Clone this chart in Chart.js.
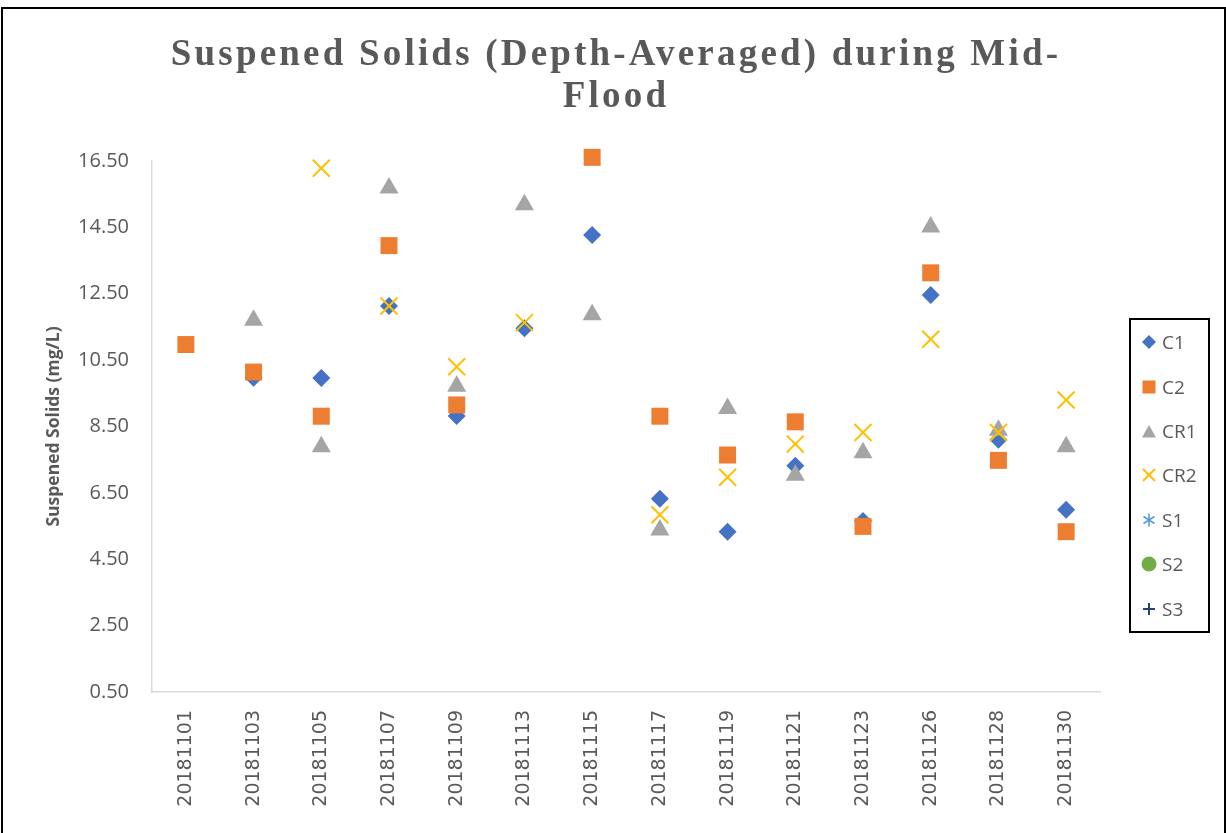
<!DOCTYPE html>
<html>
<head>
    <title>Suspended Solids Chart</title>
    <script src="https://cdn.jsdelivr.net/npm/chart.js"></script>
    <style>
        body {
            margin: 0;
            width: 1226px;
            height: 833px;
            overflow: hidden;
            background: #fff;
            position: relative;
        }

        #frame {
            position: absolute;
            left: 1px;
            top: 7px;
            width: 1221px;
            height: 830px;
            border: 2px solid #000;
        }

        #chartTitle {
            position: absolute;
            left: 0;
            top: 32px;
            width: 1226px;
            text-align: center;
            font-family: "Liberation Serif", serif;
            font-weight: bold;
            font-size: 37px;
            line-height: 42px;
            letter-spacing: 3.2px;
            padding-left: 3px;
            color: #595959;
        }

        #ssChart {
            position: absolute;
            left: 0;
            top: 0;
        }

        .legend {
            position: absolute;
            left: 1129px;
            top: 318px;
            width: 77px;
            height: 311px;
            border: 2px solid #000;
            display: flex;
            flex-direction: column;
        }

        .legend-item {
            height: 44.4px;
            display: flex;
            align-items: center;
            font-family: "Open Sans", sans-serif;
            font-size: 19px;
            color: #595959;
        }

        .legend-item svg {
            margin-left: 10px;
            margin-right: 5px;
        }
    </style>
</head>
<body>
    <div id="frame"></div>
    <canvas id="ssChart" width="1226" height="833"></canvas>
    <div id="chartTitle">Suspened Solids (Depth-Averaged) during Mid-<br>Flood</div>
    <div class="legend" id="legendContainer"></div>
    <script>
        const categories = ['20181101', '20181103', '20181105', '20181107', '20181109', '20181113', '20181115',
            '20181117', '20181119', '20181121', '20181123', '20181126', '20181128', '20181130'];

        const c1Values = [null, 9.97, 9.96, 12.13, 8.82, 11.46, 14.27, 6.32, 5.33, 7.32, 5.65, 12.46, 8.10, 5.99];
        const c2Values = [10.97, 10.14, 8.81, 13.95, 9.15, null, 16.61, 8.81, 7.64, 8.64, 5.49, 13.13, 7.48, 5.33];
        const cr1Values = [null, 11.70, 7.89, 15.69, 9.71, 15.18, 11.87, 5.38, 9.04, 7.03, 7.71, 14.51, 8.39, 7.89];
        const cr2Values = [null, null, 16.28, 12.13, 10.30, 11.63, null, 5.84, 6.97, 7.97, 8.32, 11.13, 8.32, 9.30];
        const s1Values = [];
        const s2Values = [];
        const s3Values = [];

        const yMin = 0.5;
        const yMax = 16.5;
        const yStep = 2;

        const seriesInfo = [
            { label: 'C1', data: c1Values, color: '#4472C4', style: 'rectRot', radius: 9,
              icon: '<polygon points="8,1 15,8 8,15 1,8" fill="#4472C4"/>' },
            { label: 'C2', data: c2Values, color: '#ED7D31', style: 'rect', radius: 12,
              icon: '<rect x="1.5" y="1.5" width="13" height="13" fill="#ED7D31"/>' },
            { label: 'CR1', data: cr1Values, color: '#A5A5A5', style: 'triangle', radius: 11,
              icon: '<polygon points="8,2 15,14.5 1,14.5" fill="#A5A5A5"/>' },
            { label: 'CR2', data: cr2Values, color: '#FFC000', style: 'crossRot', radius: 12,
              icon: '<path d="M2,2 L14,14 M14,2 L2,14" stroke="#FFC000" stroke-width="2"/>' },
            { label: 'S1', data: s1Values, color: '#5B9BD5', style: 'star', radius: 9,
              icon: '<path d="M8,1.5 L8,14.5 M2.5,4.5 L13.5,11.5 M13.5,4.5 L2.5,11.5" stroke="#5B9BD5" stroke-width="1.6"/>' },
            { label: 'S2', data: s2Values, color: '#70AD47', style: 'circle', radius: 8,
              icon: '<circle cx="8" cy="8" r="7.5" fill="#70AD47"/>' },
            { label: 'S3', data: s3Values, color: '#264478', style: 'cross', radius: 9,
              icon: '<path d="M8,2 L8,14 M2,8 L14,8" stroke="#264478" stroke-width="2"/>' },
        ];

        const datasets = seriesInfo.map((s, i) => ({
            label: s.label,
            data: s.data,
            showLine: false,
            clip: false, // C2 on 20181115 sits just above the 16.50 line
            pointStyle: s.style,
            pointRadius: s.radius,
            pointHoverRadius: s.radius,
            backgroundColor: s.color,
            borderColor: s.color,
            borderWidth: (s.style === 'crossRot' || s.style === 'cross' || s.style === 'star') ? 2 : 0,
            order: seriesInfo.length - i, // later series drawn on top
        }));

        Chart.defaults.font.family = '"Open Sans", sans-serif';

        new Chart(document.getElementById('ssChart').getContext('2d'), {
            type: 'line',
            data: { labels: categories, datasets: datasets },
            options: {
                responsive: false,
                animation: false,
                layout: { padding: { top: 161, right: 126, bottom: 0, left: 0 } },
                plugins: {
                    legend: { display: false },
                    tooltip: { enabled: false },
                },
                scales: {
                    x: {
                        type: 'category',
                        offset: true,
                        grid: { display: false, drawTicks: false },
                        border: { display: true, color: '#D9D9D9', width: 1.5 },
                        ticks: {
                            autoSkip: false,
                            minRotation: 90,
                            maxRotation: 90,
                            padding: 18,
                            color: '#595959',
                            font: { family: '"DejaVu Sans", sans-serif', size: 19 },
                        },
                        afterFit: scale => { scale.height = 141; },
                    },
                    y: {
                        min: yMin,
                        max: yMax,
                        grid: { display: false, drawTicks: false },
                        border: { display: true, color: '#D9D9D9', width: 1.5 },
                        ticks: {
                            stepSize: yStep,
                            padding: 23,
                            color: '#595959',
                            font: { size: 20 },
                            callback: v => Number(v).toFixed(2),
                        },
                        title: {
                            display: true,
                            text: 'Suspened Solids (mg/L)',
                            color: '#595959',
                            font: { size: 17.5, weight: 'bold' },
                            padding: { top: 44, bottom: 0 },
                        },
                        afterFit: scale => { scale.width = 152; },
                    },
                },
            },
        });

        // legend box on the right
        const legendContainer = document.getElementById('legendContainer');
        for (const s of seriesInfo) {
            const item = document.createElement('div');
            item.classList.add('legend-item');
            item.innerHTML = '<svg width="16" height="16" viewBox="0 0 16 16">' + s.icon + '</svg>';
            const text = document.createElement('span');
            text.textContent = s.label;
            item.appendChild(text);
            legendContainer.appendChild(item);
        }
    </script>
</body>
</html>
